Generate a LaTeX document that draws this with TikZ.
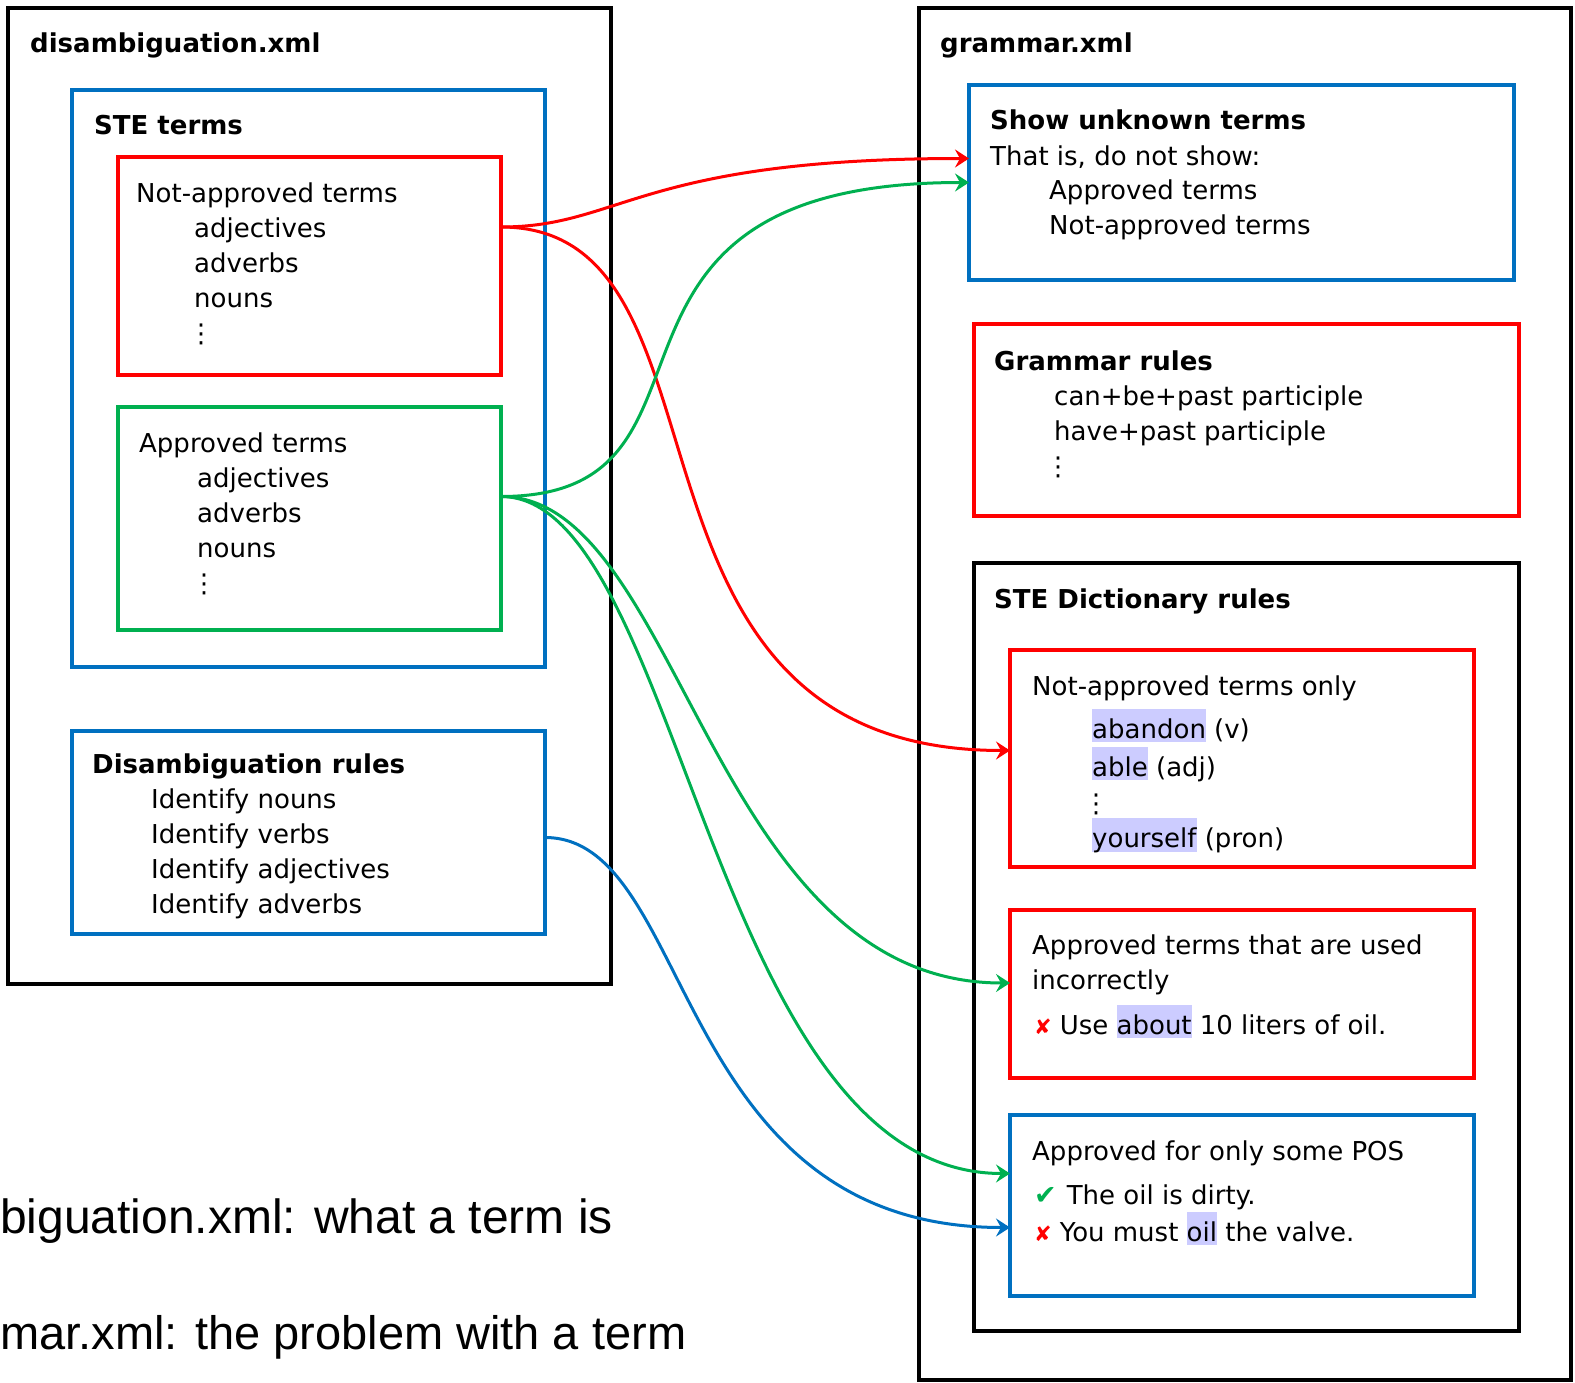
\documentclass[tikz,border=0pt]{standalone}
\usepackage{fontspec}
\setmainfont{DejaVu Sans}
\newfontfamily\notefont{Liberation Sans}
\usetikzlibrary{positioning,calc,arrows.meta}
\definecolor{stered}{HTML}{FF0000}
\definecolor{stegreen}{HTML}{00B050}
\definecolor{steblue}{HTML}{0070C0}
\definecolor{hlblue}{HTML}{CCCCFF}
\newcommand*{\hl}[1]{\smash{\setlength{\fboxsep}{0pt}\colorbox{hlblue}{\rule[-4pt]{0pt}{33pt}#1}}}
\newcommand*{\bad}{{\color{stered}\fontsize{21}{21}\selectfont ✘}}
\newcommand*{\good}{{\color{stegreen}\fontsize{27}{27}\selectfont ✔}}

\tikzset{
  box/.style={draw,line width=3.5pt,anchor=north west,inner sep=0pt,outer sep=0pt},
  % multi-line texts sit on the baseline of their last line
  txt/.style={anchor=base west,inner sep=0pt,align=left,font=\fontsize{26}{35}\selectfont},
  ttl/.style={anchor=base west,inner sep=0pt,font=\fontsize{26}{35}\selectfont\bfseries},
  note/.style={anchor=base west,inner sep=0pt,font=\notefont\fontsize{48}{48}\selectfont},
  link/.style={line width=3pt,-{Stealth[length=14pt,width=18pt,inset=5pt]}},
}

\begin{document}
\begin{tikzpicture}[x=1pt,y=-1pt]
\useasboundingbox (0,0) rectangle (1575,1383);
% disambiguation.xml on the left
\node[box,line width=4pt,minimum width=603,minimum height=976] (disfile) at (8,8) {};
\node[ttl] (disttl) at (30,53) {disambiguation.xml};
\node[box,draw=steblue,minimum width=473,minimum height=577] (steterms) at (72,90) {};
\node[ttl] (stettl) at (94,135) {STE terms};
\node[box,draw=stered,minimum width=383,minimum height=218] (notappr) at (118,157) {};
\node[txt] (notapprtxt) at (136,342) {Not-approved terms\\
  \hspace*{58pt}adjectives\\ \hspace*{58pt}adverbs\\ \hspace*{58pt}nouns\\ \hspace*{52pt}⋮};
\node[box,draw=stegreen,minimum width=383,minimum height=223] (appr) at (118,407) {};
\node[txt] (apprtxt) at (139,592) {Approved terms\\
  \hspace*{58pt}adjectives\\ \hspace*{58pt}adverbs\\ \hspace*{58pt}nouns\\ \hspace*{52pt}⋮};
\node[box,draw=steblue,minimum width=473,minimum height=203] (disrules) at (72,731) {};
\node[txt] (disrulestxt) at (92,913) {\textbf{Disambiguation rules}\\
  \hspace*{59pt}Identify nouns\\ \hspace*{59pt}Identify verbs\\
  \hspace*{59pt}Identify adjectives\\ \hspace*{59pt}Identify adverbs};
% grammar.xml on the right
\node[box,line width=4pt,minimum width=652,minimum height=1372] (gramfile) at (919,8) {};
\node[ttl] (gramttl) at (940,53) {grammar.xml};
\node[box,draw=steblue,minimum width=545,minimum height=195] (unknown) at (969,85) {};
\node[txt] (unknowntxt) at (990,235) {\textbf{Show unknown terms}\\ That is, do not show:\\
  \hspace*{59pt}Approved terms\\ \hspace*{59pt}Not-approved terms};
\node[box,draw=stered,minimum width=545,minimum height=192] (gramrules) at (974,324) {};
\node[txt] (gramrulestxt) at (994,475) {\textbf{Grammar rules}\\
  \hspace*{60pt}can+be+past participle\\ \hspace*{60pt}have+past participle\\ \hspace*{51pt}⋮};
\node[box,line width=4pt,minimum width=545,minimum height=768] (dictrules) at (974,563) {};
\node[ttl] (dictttl) at (994,608) {STE Dictionary rules};
\node[box,draw=stered,minimum width=464,minimum height=217] (naonly) at (1010,650) {};
\node[txt] (naonlytxt) at (1032,847) {Not-approved terms only\\[8pt]
  \hspace*{60pt}\hl{abandon} (v)\\[3pt] \hspace*{60pt}\hl{able} (adj)\\[1pt]
  \hspace*{51pt}⋮\\ \hspace*{60pt}\hl{yourself} (pron)};
\node[box,draw=stered,minimum width=464,minimum height=168] (incorrect) at (1010,910) {};
\node[txt] (incorrecttxt) at (1032,1034) {Approved terms that are used\\ incorrectly\\[10pt]
  \hspace*{2pt}\bad\hspace{8pt}Use \hl{about} 10 liters of oil.};
\node[box,draw=steblue,minimum width=464,minimum height=181] (somepos) at (1010,1115) {};
\node[txt] (somepostxt) at (1032,1241) {Approved for only some POS\\[9pt]
  \hspace*{2pt}\good\hspace{10pt}The oil is dirty.\\[2pt]
  \hspace*{2pt}\bad\hspace{8pt}You must \hl{oil} the valve.};
% Notes at the bottom left
\node[note] (note1) at (0,1233) {biguation.xml: what a term is};
\node[note,font=\notefont\fontsize{47}{47}\selectfont] (note2) at (0,1349) {mar.xml: the problem with a term};
% Where the links leave the boxes
\coordinate (naout) at ([yshift=-70pt]notappr.north east);
\coordinate (apout) at ([yshift=22pt]appr.east);
\coordinate (drout) at ([yshift=-5pt]disrules.east);
% Links from disambiguation.xml to grammar.xml
\draw[link,stered] (naout) .. controls +(120,0) and +(-330,0) .. ([yshift=24pt]unknown.west);
\draw[link,stered] (naout) .. controls +(250,0) and +(-420,0) .. ([yshift=8pt]naonly.west);
\draw[link,stegreen] (apout) .. controls +(250,0) and +(-420,0) .. (unknown.west);
\draw[link,stegreen] (apout) .. controls +(180,0) and +(-300,0) .. ([yshift=11pt]incorrect.west);
\draw[link,stegreen] (apout) .. controls +(180,0) and +(-300,0) .. ([yshift=32pt]somepos.west);
\draw[link,steblue] (drout) .. controls +(150,0) and +(-340,0) .. ([yshift=-22pt]somepos.west);
\end{tikzpicture}
\end{document}
